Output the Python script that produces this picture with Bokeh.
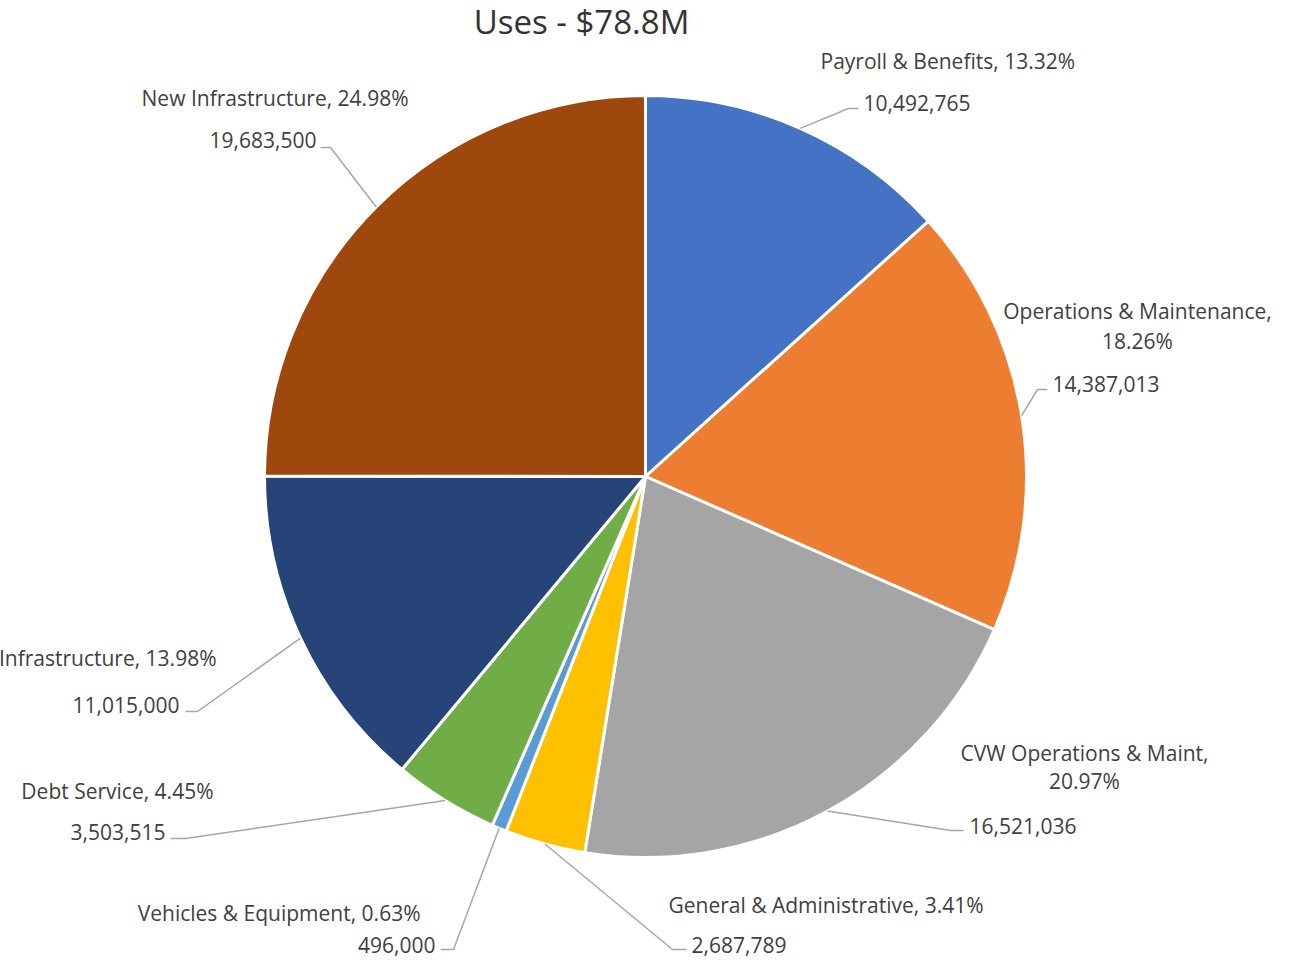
import math
from bokeh.plotting import figure
from bokeh.models import Range1d, ColumnDataSource
from bokeh.core.properties import value
from bokeh.embed import file_html
from bokeh.resources import INLINE

# ---------------- data ----------------
title_text = "Uses - $78.8M"
categories = ["Payroll & Benefits", "Operations & Maintenance", "CVW Operations & Maint",
              "General & Administrative", "Vehicles & Equipment", "Debt Service",
              "Infrastructure", "New Infrastructure"]
amounts = [10492765, 14387013, 16521036, 2687789, 496000, 3503515, 11015000, 19683500]
colors = ["#4472C4", "#ED7D31", "#A5A5A5", "#FFC000", "#5B9BD5", "#70AD47", "#264478", "#9E480E"]

# ---------------- layout (pixel coordinates from the top-left of the plot) ----------------
W, H = 1283, 957
CX, CY, R = 645, 476, 381          # pie centre / radius
FONT = "Open Sans"
TEXT_COLOR = "#404040"
LEADER_COLOR = "#A6A6A6"

name_layout = [
    [(820, 60, "left")],
    [(1137, 310, "center"), (1137, 340, "center")],
    [(1084, 752, "center"), (1084, 780, "center")],
    [(668, 904, "left")],
    [(420, 912, "right")],
    [(213, 790, "right")],
    [(216, 657, "right")],
    [(408, 97, "right")],
]
value_layout = [
    (863, 102, "left"), (1052, 383, "left"), (969, 825, "left"), (691, 944, "left"),
    (435, 944, "right"), (165, 831, "right"), (179, 704, "right"), (316, 139, "right"),
]
leader_elbow = [(848, 108), (1037, 389), (950, 830), (672, 949),
                (453, 949), (185, 838), (197, 711), (330, 147)]
leader_end = [(858, 108), (1047, 389), (963, 830), (686, 949),
              (440, 949), (170, 838), (185, 711), (320, 147)]


def px(x):
    return x


def py(y):
    return H - y


total = sum(amounts)
fracs = [a / total for a in amounts]
starts, ends, mids = [], [], []
cum = 0.0
for f in fracs:
    starts.append(math.pi / 2 - 2 * math.pi * cum)
    ends.append(math.pi / 2 - 2 * math.pi * (cum + f))
    mids.append(math.pi / 2 - 2 * math.pi * (cum + f / 2))
    cum += f

p = figure(width=W, height=H, x_range=Range1d(0, W), y_range=Range1d(0, H),
           output_backend="svg", toolbar_location=None, min_border=0,
           x_axis_location=None, y_axis_location=None)
p.grid.visible = False
p.outline_line_color = None
p.background_fill_color = "white"

src = ColumnDataSource(dict(x=[px(CX)] * len(amounts), y=[py(CY)] * len(amounts),
                            start=starts, end=ends, color=colors))
p.wedge(x="x", y="y", radius=R, start_angle="start", end_angle="end",
        direction="clock", fill_color="color", line_color="white", line_width=3, source=src)

# leader lines
xs, ys = [], []
for i, m in enumerate(mids):
    sx = px(CX) + R * math.cos(m)
    sy = py(CY) + R * math.sin(m)
    ex, ey = leader_elbow[i]
    fx, fy = leader_end[i]
    xs.append([sx, px(ex), px(fx)])
    ys.append([sy, py(ey), py(fy)])
p.multi_line(xs=xs, ys=ys, line_color=LEADER_COLOR, line_width=1.5)

# labels
groups = {"left": dict(x=[], y=[], t=[]), "right": dict(x=[], y=[], t=[]),
          "center": dict(x=[], y=[], t=[])}
for i, cat in enumerate(categories):
    pct = f"{fracs[i] * 100:.2f}%"
    lines = name_layout[i]
    texts = [f"{cat}, {pct}"] if len(lines) == 1 else [f"{cat},", pct]
    for (lx, ly, al), t in zip(lines, texts):
        groups[al]["x"].append(px(lx)); groups[al]["y"].append(py(ly)); groups[al]["t"].append(t)
    vx, vy, al = value_layout[i]
    groups[al]["x"].append(px(vx)); groups[al]["y"].append(py(vy)); groups[al]["t"].append(f"{amounts[i]:,}")

for al, g in groups.items():
    p.text(x=g["x"], y=g["y"], text=g["t"], text_align=al, text_baseline="middle",
           text_font=value(FONT), text_font_size="21px", text_color=TEXT_COLOR)

# title
p.text(x=[px(581)], y=[py(21)], text=[title_text], text_align="center", text_baseline="middle",
       text_font=value(FONT), text_font_size="33px", text_color="#333333")

open("out.html", "w").write(file_html(p, INLINE))
